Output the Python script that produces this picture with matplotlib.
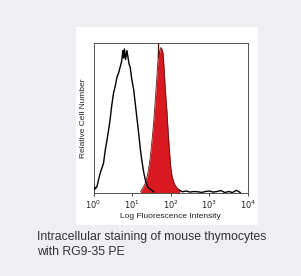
import numpy as np
import matplotlib.pyplot as plt
from matplotlib.patches import Rectangle

# ======================
# Data (log10 of intensity / relative count)
# ======================
control_log = [0.0, 0.03, 0.05, 0.09, 0.13, 0.175, 0.22, 0.26, 0.30, 0.35, 0.39, 0.43, 0.47,
               0.52, 0.56, 0.61, 0.65, 0.69, 0.73, 0.76, 0.78, 0.80, 0.83, 0.865, 0.89,
               0.92, 0.95, 0.99, 1.04, 1.08, 1.12, 1.16, 1.21, 1.25, 1.30, 1.35, 1.41,
               1.46, 1.51, 1.56]
control_cnt = [0.01, 0.04, 0.03, 0.045, 0.09, 0.136, 0.17, 0.20, 0.28, 0.355, 0.42, 0.49, 0.58,
               0.67, 0.71, 0.775, 0.80, 0.84, 0.88, 0.95, 0.90, 0.96, 0.89, 0.95, 0.91,
               0.86, 0.84, 0.76, 0.69, 0.60, 0.51, 0.42, 0.30, 0.22, 0.14, 0.08, 0.04,
               0.03, 0.02, 0.01]

stained_log = [1.22, 1.285, 1.33, 1.37, 1.42, 1.46, 1.50, 1.54, 1.575, 1.605, 1.64, 1.67,
               1.685, 1.69, 1.70, 1.72, 1.74, 1.77, 1.80, 1.83, 1.86, 1.90, 1.93, 1.965, 2.0,
               2.03, 2.06, 2.10, 2.15, 2.19, 2.23]
stained_cnt = [0.01, 0.04, 0.06, 0.09, 0.15, 0.22, 0.31, 0.42, 0.53, 0.64, 0.77, 0.89,
               1.05, 0.90, 0.92, 0.95, 0.97, 0.96, 0.935, 0.82, 0.69, 0.55, 0.42, 0.29, 0.175,
               0.12, 0.09, 0.06, 0.04, 0.03, 0.02]

# low noise tail along the baseline
tail_log = [2.23, 2.3, 2.4, 2.5, 2.6, 2.7, 2.8, 2.9, 3.0, 3.1, 3.2, 3.3, 3.4, 3.5, 3.6, 3.7, 3.8]
tail_cnt = [0.02, 0.01, 0.015, 0.008, 0.012, 0.01, 0.006, 0.012, 0.015, 0.008, 0.012, 0.018, 0.005,
            0.012, 0.005, 0.02, 0.005]

xticks_exp = [0, 1, 2, 3, 4]
caption = "Intracellular staining of mouse thymocytes\nwith RG9-35 PE"

# ======================
# Figure
# ======================
fig = plt.figure(figsize=(3.01, 2.76), dpi=100)
fig.patch.set_facecolor("#efeef2")

W, H = 301, 276
# white panel behind the plot
fig.patches.append(Rectangle((76 / W, 1 - 225 / H), (258 - 76) / W, (225 - 27) / H,
                             transform=fig.transFigure, facecolor="white",
                             edgecolor="none", zorder=0))

ax = fig.add_axes([93.5 / W, 1 - 193.3 / H, (248 - 93.5) / W, (193.3 - 43) / H])
ax.set_zorder(2)
ax.set_facecolor("white")

cx = 10 ** np.array(control_log)
sx = 10 ** np.array(stained_log)
tx = 10 ** np.array(tail_log)

ax.fill_between(sx, stained_cnt, 0, color="#d81920", lw=0, zorder=2)
ax.plot(sx, stained_cnt, color="#6a1010", lw=0.6, zorder=3)
ax.plot(cx, control_cnt, color="black", lw=1.0, zorder=4)
ax.plot(tx, tail_cnt, color="black", lw=1.0, zorder=4)

ax.set_xscale("log")
ax.set_xlim(1, 10 ** 4)
ax.set_ylim(0, 1.0)
ax.set_xticks([10 ** e for e in xticks_exp])
ax.set_xticklabels([f"$10^{{{e}}}$" for e in xticks_exp], fontsize=6, family="Liberation Sans")
ax.xaxis.set_minor_locator(plt.NullLocator())
ax.tick_params(axis="x", length=2, width=0.6, pad=2, colors="#222222")
ax.set_yticks([])
for s in ax.spines.values():
    s.set_linewidth(0.7)
    s.set_color("#555555")

ax.set_xlabel("Log Fluorescence Intensity", fontsize=6, family="Liberation Sans",
              labelpad=1, color="#222222")
ax.set_ylabel("Relative Cell Number", fontsize=6, family="Liberation Sans",
              labelpad=5, color="#222222")

fig.text(37 / W, 1 - 231 / H, caption, fontsize=8.8, family="Liberation Sans",
         color="#333333", va="top", ha="left", linespacing=1.3)

fig.savefig("out.png", dpi=100)
